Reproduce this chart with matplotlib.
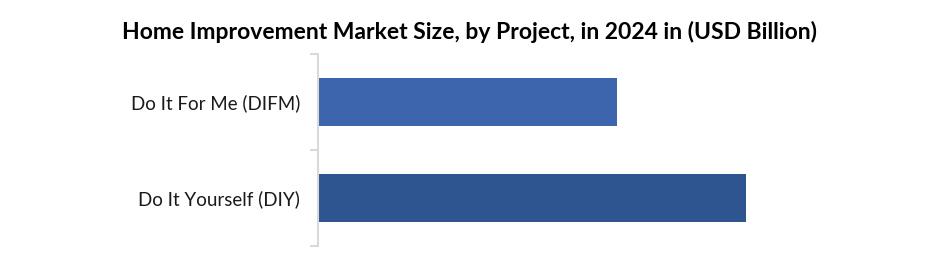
import matplotlib
matplotlib.use("Agg")
import matplotlib.pyplot as plt
import numpy as np

# chart data (USD Billion)
categories = ["Do It Yourself (DIY)", "Do It For Me (DIFM)"]
values = [530, 370]
colors = ["#2f5591", "#3c65ad"]
title = "Home Improvement Market Size, by Project, in 2024 in (USD Billion)"

fig = plt.figure(figsize=(9.4, 2.74), dpi=100)
ax = fig.add_axes([318 / 940, 28 / 274, (900 - 318) / 940, 192 / 274])

pos = np.arange(len(categories))
ax.barh(pos, values, height=0.5, color=colors)

ax.set_xlim(0, 720)
ax.set_ylim(-0.5, len(categories) - 0.5)

# category labels sit between boundary ticks, like Excel
ax.set_yticks(np.arange(-0.5, len(categories)), labels=[""] * (len(categories) + 1))
ax.set_yticks(pos, labels=categories, minor=True)
ax.tick_params(axis="y", which="major", length=6, width=1.5, color="#d9d9d9")
ax.tick_params(axis="y", which="minor", length=0, pad=13, labelsize=13.5, labelcolor="#1a1a1a")
for lab in ax.get_yticklabels(minor=True):
    lab.set_fontfamily(["Lato", "DejaVu Sans"])

ax.set_xticks([])
for s in ["top", "right", "bottom"]:
    ax.spines[s].set_visible(False)
ax.spines["left"].set_color("#d9d9d9")
ax.spines["left"].set_linewidth(1.5)

fig.text(0.5, 1 - 32 / 274, title, ha="center", va="center", fontsize=16.5,
         fontweight="bold", family=["Lato", "DejaVu Sans"])

fig.savefig("out.png", dpi=100)
